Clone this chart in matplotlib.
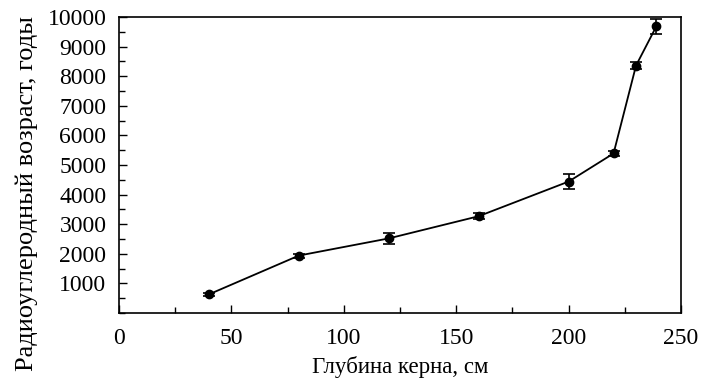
import numpy as np
import matplotlib
matplotlib.use("Agg")
import matplotlib.pyplot as plt
from matplotlib.ticker import MultipleLocator

plt.rcParams['font.family'] = ['Liberation Serif', 'DejaVu Serif']

depth = [40, 80, 120, 160, 200, 220, 230, 239]
age = [630, 1940, 2520, 3270, 4440, 5390, 8360, 9680]
err = [60, 70, 180, 110, 250, 80, 110, 260]

fig = plt.figure(figsize=(7.02, 3.80), dpi=100)
ax = fig.add_axes([119 / 702, 1 - 313 / 380, (681 - 119) / 702, (313 - 17) / 380])

ax.errorbar(depth, age, yerr=err, color='black', lw=1.3, marker='o', ms=6,
            capsize=4, elinewidth=1.2, capthick=1.2)

ax.set_xlim(0, 250)
ax.set_ylim(0, 10000)
ax.xaxis.set_major_locator(MultipleLocator(50))
ax.xaxis.set_minor_locator(MultipleLocator(25))
ax.yaxis.set_major_locator(MultipleLocator(1000))
ax.yaxis.set_minor_locator(MultipleLocator(500))
ax.set_yticks(np.arange(1000, 10001, 1000))
ax.tick_params(which='both', direction='in', top=False, right=False, labelsize=17)
ax.tick_params(which='major', length=6, width=1)
ax.tick_params(which='minor', length=4, width=1)
ax.tick_params(axis='x', which='major', pad=11)
ax.tick_params(axis='y', which='major', pad=9)
for s in ax.spines.values():
    s.set_linewidth(1.2)

ax.set_xlabel('Глубина керна, см', fontsize=16.5, labelpad=5)
ax.set_ylabel('Радиоуглеродный возраст, годы', fontsize=19)
ax.yaxis.set_label_coords(-0.145, 0.405)

fig.savefig('out.png', dpi=100)
